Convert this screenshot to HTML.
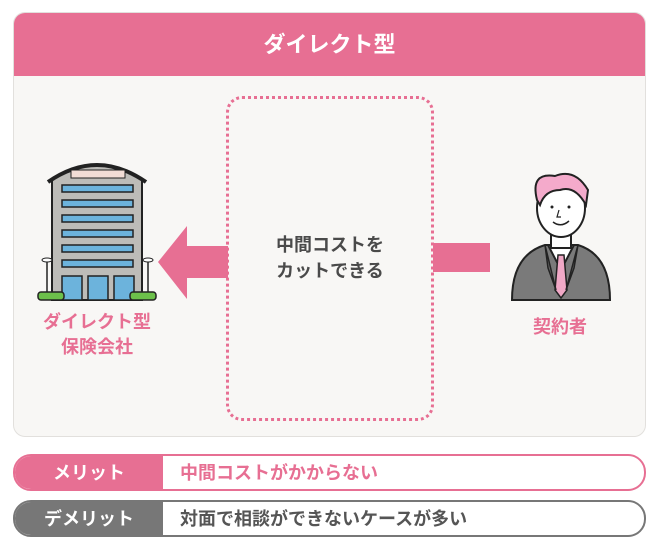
<!DOCTYPE html>
<html><head><meta charset="utf-8"><style>
*{margin:0;padding:0;box-sizing:border-box}
body{width:660px;height:557px;background:#fff;position:relative;font-family:"Liberation Sans","Noto Sans CJK JP",sans-serif;font-weight:bold;overflow:hidden}
.card{position:absolute;left:13px;top:12px;width:633px;height:425px;background:#f8f7f5;border:1px solid #e2e0dd;border-radius:12px;overflow:hidden}
.hdr{height:63px;background:#e76f93;color:#fff;font-size:22px;text-align:center;line-height:63px}
.dot{position:absolute;left:226px;top:96px;width:208px;height:325px;border:3px dotted #e76f93;border-radius:16px}
.t{position:absolute;text-align:center;white-space:nowrap}
.bar{position:absolute;left:13px;width:633px;height:37px;border-radius:18px;background:#fff;overflow:hidden}
.bar .l{position:absolute;left:0;top:0;bottom:0;width:148px;color:#fff;font-size:18px;text-align:center;line-height:35px}
.bar .r{position:absolute;left:165px;top:0;font-size:18px;line-height:35px}
</style></head><body>
<div class="card"><div class="hdr">ダイレクト型</div></div>
<div class="dot"></div>
<div class="t" style="left:226px;width:208px;top:232px;font-size:18px;color:#4a4a4a;line-height:26px">中間コストを<br>カットできる</div>
<svg style="position:absolute;left:0;top:0" width="660" height="440">
<polygon points="158,262 187,226 187,246 228,246 228,278 187,278 187,299" fill="#e76f93"/>
<rect x="433" y="243" width="57" height="29" fill="#e76f93"/>
<g stroke="#222" stroke-width="2">
<path d="M52,300 L52,180 Q97,150 142,180 L142,300 Z" fill="#bdbcb8"/>
<path d="M48,182 Q97,148 146,182" fill="none" stroke-width="4"/>
<rect x="71" y="170" width="54" height="8" fill="#f2ddd6" stroke-width="1"/>
<g fill="#6cb3dc" stroke-width="1.5">
<rect x="62" y="185" width="71" height="7"/><rect x="62" y="200" width="71" height="7"/><rect x="62" y="215" width="71" height="7"/><rect x="62" y="230" width="71" height="7"/><rect x="62" y="245" width="71" height="7"/><rect x="62" y="260" width="71" height="7"/>
<rect x="62" y="276" width="20" height="24"/><rect x="88" y="276" width="20" height="24"/><rect x="114" y="276" width="20" height="24"/>
</g>
<line x1="47" y1="262" x2="47" y2="294" stroke-width="1.5"/><line x1="148" y1="262" x2="148" y2="294" stroke-width="1.5"/>
<ellipse cx="47" cy="260" rx="5" ry="2" fill="#fff" stroke-width="1"/><ellipse cx="148" cy="260" rx="5" ry="2" fill="#fff" stroke-width="1"/>
<rect x="38" y="292" width="26" height="8" rx="3" fill="#6cc04a" stroke-width="1.5"/>
<rect x="130" y="292" width="26" height="8" rx="3" fill="#6cc04a" stroke-width="1.5"/>
</g>
<g stroke="#222" stroke-width="2">
<path d="M512,300 Q512,255 545,245 L578,245 Q610,255 610,300 Z" fill="#7a7a7a"/>
<path d="M548,245 L561,270 L574,245 Z" fill="#fff"/>
<path d="M558,255 L564,255 L567,290 L561,298 L555,290 Z" fill="#f0a8c6" stroke-width="1.5"/>
<path d="M545,245 L556,290 L548,268 Z M578,245 L566,290 L574,268 Z" fill="#666" stroke-width="1.5"/>
<rect x="551" y="228" width="20" height="20" fill="#fff"/>
<ellipse cx="561" cy="208" rx="24" ry="29" fill="#fff"/>
<path d="M537,200 Q530,172 555,176 Q575,168 588,190 L586,205 Q575,185 560,190 Q545,190 540,205 Z" fill="#f4aacb"/>
<circle cx="552" cy="207" r="1.5" fill="#222" stroke="none"/><circle cx="569" cy="207" r="1.5" fill="#222" stroke="none"/>
<path d="M553,222 Q561,228 569,221" fill="none" stroke-width="1.5"/>
<path d="M559,210 L557,217 L561,217" fill="none" stroke-width="1.2"/>
</g>
</svg>
<div class="t" style="left:37px;width:120px;top:310px;font-size:18px;color:#e76f93;line-height:25px">ダイレクト型<br>保険会社</div>
<div class="t" style="left:520px;width:80px;top:313px;font-size:18px;color:#e76f93">契約者</div>
<div class="bar" style="top:454px;border:2px solid #e76f93"><div class="l" style="background:#e76f93">メリット</div><div class="r" style="color:#e76f93">中間コストがかからない</div></div>
<div class="bar" style="top:500px;border:2px solid #777"><div class="l" style="background:#777">デメリット</div><div class="r" style="color:#555">対面で相談ができないケースが多い</div></div>
</body></html>
